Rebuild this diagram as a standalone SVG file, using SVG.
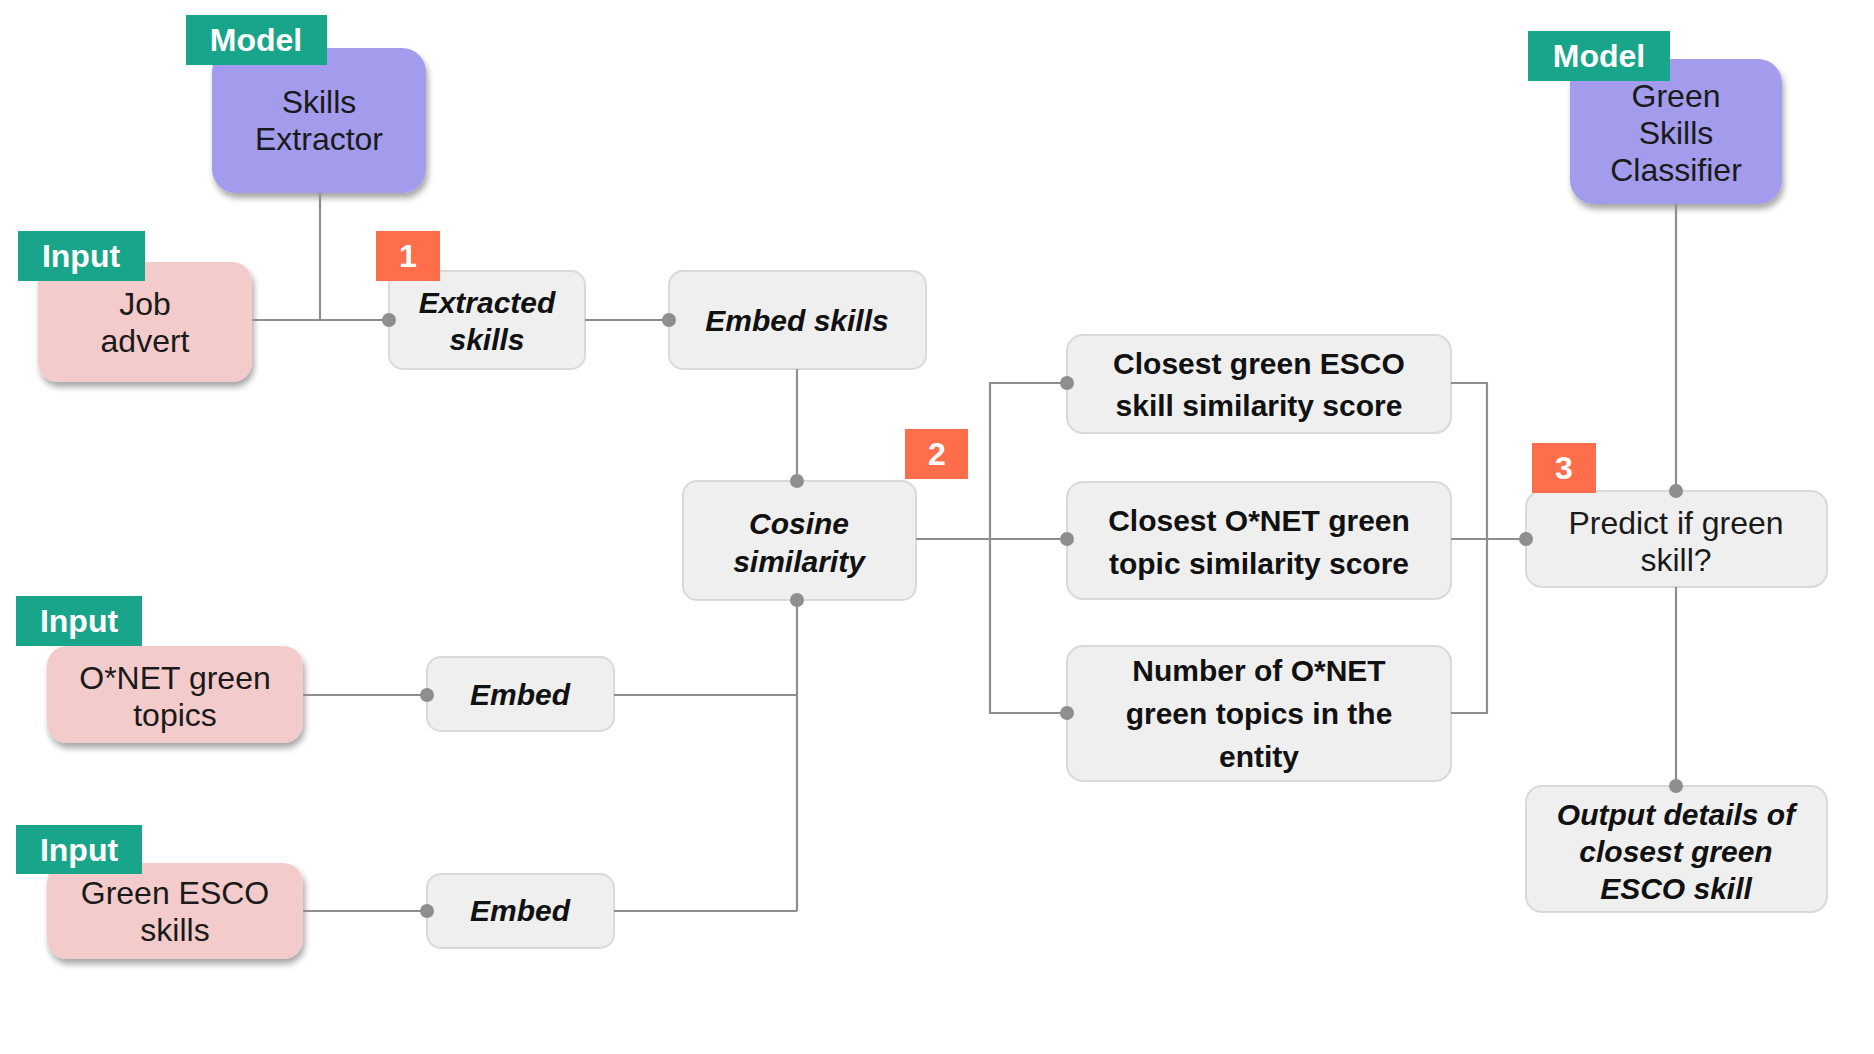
<svg xmlns="http://www.w3.org/2000/svg" width="1874" height="1054" viewBox="0 0 1874 1054">
<style>
.bg{fill:#ffffff}
.model{fill:#A39BEC}
.input{fill:#F3CBCB}
.step{fill:#EFEFEF;stroke:#D9D9D9;stroke-width:2}
.tag{fill:#19A58A}
.badge{fill:#FF6E4B}
.t{font-family:"Liberation Sans",Arial,sans-serif;font-size:32px;fill:#1a1a1a;text-anchor:middle}
.b{font-family:"Liberation Sans",Arial,sans-serif;font-size:30px;font-weight:bold;fill:#111;text-anchor:middle}
.bi{font-family:"Liberation Sans",Arial,sans-serif;font-size:30px;font-weight:bold;font-style:italic;fill:#111;text-anchor:middle}
.tt{font-family:"Liberation Sans",Arial,sans-serif;font-size:32px;font-weight:bold;fill:#fff;text-anchor:middle}
.line{fill:none;stroke:#8E8E8E;stroke-width:2.2}
.dot{fill:#8E8E8E}
</style>
<defs>
<filter id="sh" x="-10%" y="-10%" width="130%" height="140%">
<feDropShadow dx="2" dy="5" stdDeviation="3" flood-color="#000" flood-opacity="0.35"/>
</filter>
</defs>
<rect class="bg" x="0" y="0" width="1874" height="1054"/>

<g id="skills-extractor">
<rect class="model" x="212" y="48" width="214" height="145" rx="24" filter="url(#sh)"/>
<text class="t" x="319" y="113">Skills</text>
<text class="t" x="319" y="150">Extractor</text>
<rect class="tag" x="186" y="15" width="141" height="50"/>
<text class="tt" x="256" y="51">Model</text>
</g>

<g id="job-advert">
<rect class="input" x="38" y="262" width="214" height="120" rx="20" filter="url(#sh)"/>
<text class="t" x="145" y="315">Job</text>
<text class="t" x="145" y="352">advert</text>
<rect class="tag" x="18" y="231" width="127" height="50"/>
<text class="tt" x="81" y="267">Input</text>
</g>

<g id="extracted-skills">
<rect class="step" x="389" y="271" width="196" height="98" rx="14"/>
<text class="bi" x="487" y="313">Extracted</text>
<text class="bi" x="487" y="350">skills</text>
<rect class="badge" x="376" y="231" width="64" height="50"/>
<text class="tt" x="408" y="267">1</text>
</g>

<g id="embed-skills">
<rect class="step" x="669" y="271" width="257" height="98" rx="14"/>
<text class="bi" x="797" y="331">Embed skills</text>
</g>

<g id="cosine-similarity">
<rect class="step" x="683" y="481" width="233" height="119" rx="14"/>
<text class="bi" x="799" y="534">Cosine</text>
<text class="bi" x="799" y="572">similarity</text>
<rect class="badge" x="905" y="429" width="63" height="50"/>
<text class="tt" x="937" y="465">2</text>
</g>

<g id="onet-topics">
<rect class="input" x="47" y="646" width="256" height="97" rx="20" filter="url(#sh)"/>
<text class="t" x="175" y="689">O*NET green</text>
<text class="t" x="175" y="726">topics</text>
<rect class="tag" x="16" y="596" width="126" height="50"/>
<text class="tt" x="79" y="632">Input</text>
</g>

<g id="embed-onet">
<rect class="step" x="427" y="657" width="187" height="74" rx="14"/>
<text class="bi" x="520" y="705">Embed</text>
</g>

<g id="green-esco-skills">
<rect class="input" x="47" y="863" width="256" height="96" rx="20" filter="url(#sh)"/>
<text class="t" x="175" y="904">Green ESCO</text>
<text class="t" x="175" y="941">skills</text>
<rect class="tag" x="16" y="825" width="126" height="49"/>
<text class="tt" x="79" y="861">Input</text>
</g>

<g id="embed-esco">
<rect class="step" x="427" y="874" width="187" height="74" rx="14"/>
<text class="bi" x="520" y="921">Embed</text>
</g>

<g id="closest-esco">
<rect class="step" x="1067" y="335" width="384" height="98" rx="16"/>
<text class="b" x="1259" y="374">Closest green ESCO</text>
<text class="b" x="1259" y="416">skill similarity score</text>
</g>

<g id="closest-onet">
<rect class="step" x="1067" y="482" width="384" height="117" rx="16"/>
<text class="b" x="1259" y="531">Closest O*NET green</text>
<text class="b" x="1259" y="574">topic similarity score</text>
</g>

<g id="number-onet">
<rect class="step" x="1067" y="646" width="384" height="135" rx="16"/>
<text class="b" x="1259" y="681">Number of O*NET</text>
<text class="b" x="1259" y="724">green topics in the</text>
<text class="b" x="1259" y="767">entity</text>
</g>

<g id="green-skills-classifier">
<rect class="model" x="1570" y="59" width="212" height="145" rx="24" filter="url(#sh)"/>
<text class="t" x="1676" y="107">Green</text>
<text class="t" x="1676" y="144">Skills</text>
<text class="t" x="1676" y="181">Classifier</text>
<rect class="tag" x="1528" y="31" width="142" height="50"/>
<text class="tt" x="1599" y="67">Model</text>
</g>

<g id="predict">
<rect class="step" x="1526" y="491" width="301" height="96" rx="16"/>
<text class="t" x="1676" y="534">Predict if green</text>
<text class="t" x="1676" y="571">skill?</text>
<rect class="badge" x="1532" y="443" width="64" height="50"/>
<text class="tt" x="1564" y="479">3</text>
</g>

<g id="output">
<rect class="step" x="1526" y="786" width="301" height="126" rx="16"/>
<text class="bi" x="1676" y="825">Output details of</text>
<text class="bi" x="1676" y="862">closest green</text>
<text class="bi" x="1676" y="899">ESCO skill</text>
</g>

<g id="connectors">
<path class="line" d="M320 193 V320"/>
<path class="line" d="M252 320 H389"/>
<path class="line" d="M585 320 H669"/>
<path class="line" d="M797 369 V481"/>
<path class="line" d="M797 600 V911"/>
<path class="line" d="M303 695 H427"/>
<path class="line" d="M614 695 H797"/>
<path class="line" d="M303 911 H427"/>
<path class="line" d="M614 911 H797"/>
<path class="line" d="M916 539 H1067"/>
<path class="line" d="M1067 383 H990 V713 H1067"/>
<path class="line" d="M1451 383 H1487 V713 H1451"/>
<path class="line" d="M1451 539 H1526"/>
<path class="line" d="M1676 204 V491"/>
<path class="line" d="M1676 587 V786"/>
<circle class="dot" cx="389" cy="320" r="7"/>
<circle class="dot" cx="669" cy="320" r="7"/>
<circle class="dot" cx="797" cy="481" r="7"/>
<circle class="dot" cx="797" cy="600" r="7"/>
<circle class="dot" cx="427" cy="695" r="7"/>
<circle class="dot" cx="427" cy="911" r="7"/>
<circle class="dot" cx="1067" cy="383" r="7"/>
<circle class="dot" cx="1067" cy="539" r="7"/>
<circle class="dot" cx="1067" cy="713" r="7"/>
<circle class="dot" cx="1526" cy="539" r="7"/>
<circle class="dot" cx="1676" cy="491" r="7"/>
<circle class="dot" cx="1676" cy="786" r="7"/>
</g>
</svg>
